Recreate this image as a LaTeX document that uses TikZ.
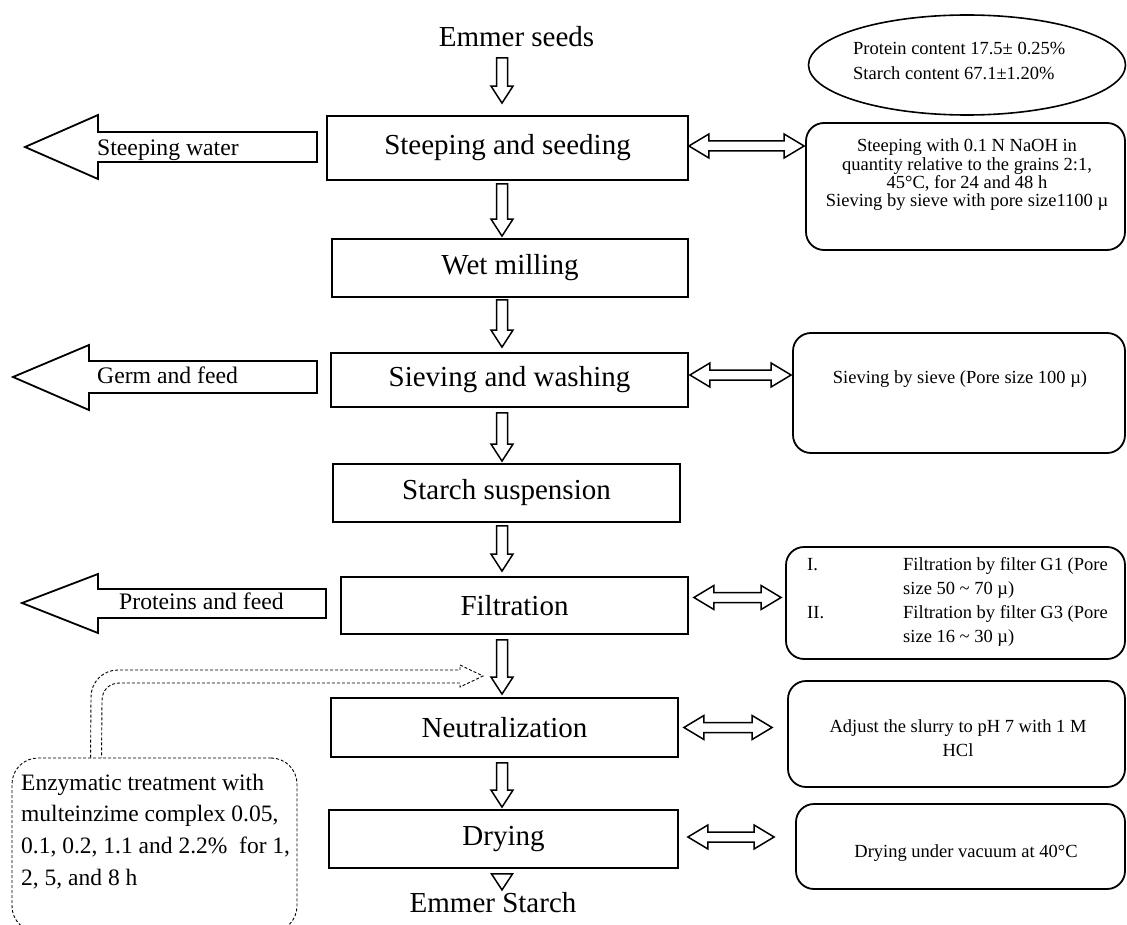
\documentclass[tikz,border=0pt]{standalone}
\usepackage{fontspec}
\setmainfont{Liberation Serif}
\usetikzlibrary{calc,shapes.geometric}
\newcommand\myvarrow[2]{\draw[blk] let \p1=#1, \p2=#2 in
  (\x1-5.5pt,\y1) -- (\x1-5.5pt,\y2+17pt) -- (\x1-11pt,\y2+17pt) -- (\x1,\y2)
  -- (\x1+11pt,\y2+17pt) -- (\x1+5.5pt,\y2+17pt) -- (\x1+5.5pt,\y1) -- cycle;}
\newcommand\myharrow[2]{\draw[blk] let \p1=#1, \p2=#2 in
  (\x1,\y1) -- (\x1+20pt,\y1+12pt) -- (\x1+20pt,\y1+5pt) -- (\x2-20pt,\y1+5pt)
  -- (\x2-20pt,\y1+12pt) -- (\x2,\y1) -- (\x2-20pt,\y1-12pt) -- (\x2-20pt,\y1-5pt)
  -- (\x1+20pt,\y1-5pt) -- (\x1+20pt,\y1-12pt) -- cycle;}
\tikzset{
  mainbox/.style={draw, line width=1.8pt, inner sep=0pt, font=\fontsize{29}{34}\selectfont},
  sidebox/.style={draw, line width=1.8pt, rounded corners=18pt, inner sep=0pt},
  blk/.style={line width=1.5pt, line join=miter},
  outarrow/.style={draw, line width=1.8pt, line join=miter},
  outtext/.style={inner sep=0pt, font=\fontsize{23.7}{28}\selectfont},
  titletext/.style={inner sep=0pt, font=\fontsize{29}{34}\selectfont},
  dsh/.style={line width=0.9pt, dash pattern=on 3pt off 2pt},
}
\begin{document}
\begin{tikzpicture}[x=1pt,y=-1pt]
\useasboundingbox (0,0) rectangle (1127,925);
\clip (0,0) rectangle (1127,925);
\coordinate (col) at (502,0);

% main column
\node[titletext, anchor=base] (seeds) at (516.5,47) {Emmer seeds};
\node[mainbox, minimum width=361pt, minimum height=64pt] (steep) at (507.5,148) {Steeping and seeding};
\node[mainbox, minimum width=356pt, minimum height=58pt] (wet) at (510,268) {Wet milling};
\node[mainbox, minimum width=357pt, minimum height=54pt] (sieve) at (509.5,380) {Sieving and washing};
\node[mainbox, minimum width=347pt, minimum height=58pt] (starch) at (506.5,493) {Starch suspension};
\node[mainbox, minimum width=347pt, minimum height=57pt] (filt) at (514.5,605.5) {Filtration};
\node[mainbox, minimum width=347pt, minimum height=59pt] (neut) at (504.5,727.5) {Neutralization};
\node[mainbox, minimum width=349pt, minimum height=58pt] (dry) at (503.5,839) {Drying};
\node[titletext, anchor=base] (product) at (493,912) {Emmer Starch};

% vertical block arrows
\myvarrow{($(col |- seeds.base)+(0,11)$)}{($(col |- steep.north)+(0,-12)$)}
\myvarrow{($(col |- steep.south)+(0,3)$)}{($(col |- wet.north)+(0,-2)$)}
\myvarrow{($(col |- wet.south)+(0,2)$)}{($(col |- sieve.north)+(0,-5)$)}
\myvarrow{($(col |- sieve.south)+(0,5)$)}{($(col |- starch.north)+(0,-2)$)}
\myvarrow{($(col |- starch.south)+(0,3)$)}{($(col |- filt.north)+(0,-5)$)}
\myvarrow{($(col |- filt.south)+(0,5)$)}{($(col |- neut.north)+(0,-3)$)}
\myvarrow{($(col |- neut.south)+(0,5)$)}{($(col |- dry.north)+(0,-2)$)}
\draw[blk] ($(col |- dry.south)+(-10.5,5)$) -- ($(col |- dry.south)+(10.5,5)$)
  -- ($(col |- dry.south)+(0,21)$) -- cycle;

% composition ellipse
\node[draw, ellipse, line width=1.6pt, minimum width=317pt, minimum height=100pt, inner sep=0pt] (comp) at (967,65) {};
\node[inner sep=0pt, anchor=base west, font=\fontsize{18.5}{24.5}\selectfont] (comptxt) at (853,55)
  {\begin{tabular}[t]{@{}l@{}}Protein content 17.5± 0.25\%\\ Starch content 67.1±1.20\%\end{tabular}};

% side condition boxes
\node[sidebox, minimum width=319pt, minimum height=127pt] (rsteep) at (965.5,186.5) {};
\node[inner sep=0pt, anchor=base, font=\fontsize{18.5}{18.3}\selectfont] (rsteeptxt) at (967,151.7)
  {\begin{tabular}[t]{@{}c@{}}Steeping with 0.1 N NaOH in\\ quantity relative to the grains 2:1,\\ 45°C, for 24 and 48 h\\ Sieving by sieve with pore size1100 µ\end{tabular}};

\node[sidebox, minimum width=332pt, minimum height=120pt] (rsieve) at (959,393) {};
\node[inner sep=0pt, anchor=base, font=\fontsize{18.5}{22}\selectfont] (rsievetxt) at (960,383)
  {Sieving by sieve (Pore size 100 µ)};

\node[sidebox, minimum width=339pt, minimum height=112pt] (rfilt) at (955.5,603) {};
\node[inner sep=0pt, anchor=base west, font=\fontsize{18.5}{24.3}\selectfont] (rfilttxt) at (807,570)
  {\begin{tabular}[t]{@{}l@{}l@{}}\makebox[96pt][l]{I.} & Filtration by filter G1 (Pore\\ & size 50 \textasciitilde{} 70 µ)\\ \makebox[96pt][l]{II.} & Filtration by filter G3 (Pore\\ & size 16 \textasciitilde{} 30 µ)\end{tabular}};

\node[sidebox, minimum width=337pt, minimum height=106pt] (rneut) at (956.5,734) {};
\node[inner sep=0pt, anchor=base, font=\fontsize{18.5}{24}\selectfont] (rneuttxt) at (958,732)
  {\begin{tabular}[t]{@{}c@{}}Adjust the slurry to pH 7 with 1 M\\ HCl\end{tabular}};

\node[sidebox, minimum width=329pt, minimum height=85pt] (rdry) at (960.5,846.5) {};
\node[inner sep=0pt, anchor=base, font=\fontsize{18.5}{22}\selectfont] (rdrytxt) at (966,857)
  {Drying under vacuum at 40°C};

% double arrows to side boxes
\myharrow{($(steep.east)+(0,-2)$)}{($(steep.east -| rsteep.west)+(-1,-2)$)}
\myharrow{($(sieve.east)+(1,-5)$)}{($(sieve.east -| rsieve.west)+(-1,-5)$)}
\myharrow{($(filt.east)+(5,-8)$)}{($(filt.east -| rfilt.west)+(-4,-8)$)}
\myharrow{($(neut.east)+(5,0)$)}{($(neut.east -| rneut.west)+(-15,0)$)}
\myharrow{($(dry.east)+(9,-2)$)}{($(dry.east -| rdry.west)+(-21,-2)$)}

% outgoing streams
\draw[outarrow] (317,132) -- (98,132) -- (98,115) -- (25,147) -- (98,179) -- (98,162) -- (317,162) -- cycle;
\node[outtext, anchor=base west] (water) at (97,156) {Steeping water};
\draw[outarrow] (317,361) -- (89,361) -- (89,345) -- (13,377) -- (89,410) -- (89,393) -- (317,393) -- cycle;
\node[outtext, anchor=base west] (germ) at (97,383) {Germ and feed};
\draw[outarrow] (326,589) -- (98,589) -- (98,574) -- (22,603) -- (98,633) -- (98,618) -- (326,618) -- cycle;
\node[outtext, anchor=base west] (prot) at (119,609) {Proteins and feed};

% enzymatic treatment
\node[draw, dsh, rounded corners=26pt, minimum width=285pt, minimum height=174pt, inner sep=0pt] (enz) at (154.5,845) {};
\node[inner sep=0pt, anchor=base west, font=\fontsize{23.5}{31.7}\selectfont] (enztxt) at (21,790)
  {\begin{tabular}[t]{@{}l@{}}Enzymatic treatment with\\ multeinzime complex 0.05,\\ 0.1, 0.2, 1.1 and 2.2\%\ \ for 1,\\ 2, 5, and 8 h\end{tabular}};
\coordinate (dtip) at (483,676);
\draw[dsh] ($(enz.north west)+(79,0)$) -- (91,697) .. controls (91,682) and (103,670) .. (118,670)
  -- (460,670) -- (460,665) -- (dtip) -- (460,687) -- (460,683) -- (120,683)
  .. controls (109,683) and (102,690) .. (102,701) -- ($(enz.north west)+(90,0)$);
\end{tikzpicture}
\end{document}
